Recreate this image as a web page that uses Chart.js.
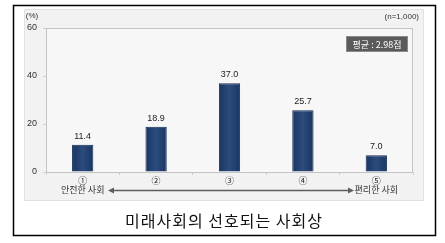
<!DOCTYPE html>
<html>
<head>
<meta charset="utf-8">
<script src="https://cdn.jsdelivr.net/npm/chart.js@4"></script>
<style>
  body { margin: 0; background: #fff; }
  #wrap { position: relative; width: 445px; height: 243px; }
</style>
</head>
<body>
<div id="wrap"><canvas id="chart"></canvas></div>
<script>
'use strict';

const categories = ['①', '②', '③', '④', '⑤'];
const subLabels = ['안전한 사회', '', '', '', '편리한 사회'];
const shares = [11.4, 18.9, 37.0, 25.7, 7.0];
const yTicks = [0, 20, 40, 60];
const unitLabel = '(%)';
const sampleLabel = '(n=1,000)';
const averageLabel = '평균 : 2.98점';
const titleText = '미래사회의 선호되는 사회상';

const FONT = "'Liberation Sans', 'Noto Sans CJK KR', sans-serif";
const KFONT = "'Noto Sans CJK KR', sans-serif";

let canvasElem = document.getElementById('chart');

// shade each bar darker at the edges, like the original
function barFill(context) {
  const chart = context.chart;
  const bar = chart.getDatasetMeta(0).data[context.dataIndex];
  if (!bar || !isFinite(bar.x) || !bar.width) return '#213f6e';
  const g = chart.ctx.createLinearGradient(bar.x - bar.width / 2, 0, bar.x + bar.width / 2, 0);
  g.addColorStop(0, '#1a3460');
  g.addColorStop(0.5, '#2b4c7e');
  g.addColorStop(1, '#1a3460');
  return g;
}

// frame, panel, plot box, labels and the arrow under the axis
const decor = {
  id: 'decor',
  beforeDraw(chart) {
    const ctx = chart.ctx;
    const a = chart.chartArea;
    ctx.save();
    ctx.fillStyle = '#ffffff';
    ctx.fillRect(0, 0, chart.width, chart.height);
    // outer panel
    ctx.fillStyle = '#f2f2f2';
    ctx.fillRect(24, 9, 400, 192);
    ctx.strokeStyle = '#e2e2e2';
    ctx.lineWidth = 1;
    ctx.strokeRect(24.5, 9.5, 399, 191);
    // plot area
    ctx.fillStyle = '#f7f7f7';
    ctx.fillRect(a.left, a.top, a.right - a.left, a.bottom - a.top);
    // black frame
    ctx.strokeStyle = '#000';
    ctx.lineWidth = 1.5;
    ctx.strokeRect(13.5, 5.5, 422, 230);
    ctx.restore();
  },
  beforeDatasetsDraw(chart) {
    const ctx = chart.ctx;
    const a = chart.chartArea;
    ctx.save();
    ctx.strokeStyle = '#c4c4c4';
    ctx.lineWidth = 1;
    ctx.strokeRect(a.left + 0.5, a.top + 0.5, a.right - a.left - 1, a.bottom - a.top);
    ctx.restore();
  },
  afterDatasetsDraw(chart) {
    const ctx = chart.ctx;
    const meta = chart.getDatasetMeta(0);
    ctx.save();
    ctx.fillStyle = '#222';
    ctx.font = '9px ' + FONT;
    ctx.textAlign = 'center';
    ctx.textBaseline = 'alphabetic';
    meta.data.forEach((bar, i) => {
      ctx.fillText(shares[i].toFixed(1), bar.x, bar.y - 6);
    });

    // unit and sample size
    ctx.fillStyle = '#333';
    ctx.font = '8px ' + FONT;
    ctx.textAlign = 'center';
    ctx.fillText(unitLabel, 32, 18);
    ctx.textAlign = 'right';
    ctx.fillText(sampleLabel, 419, 19);

    // average box
    ctx.fillStyle = '#5b5b5b';
    ctx.fillRect(346, 36, 62, 16);
    ctx.strokeStyle = '#8a8a8a';
    ctx.lineWidth = 1;
    ctx.strokeRect(346.5, 36.5, 61, 15);
    ctx.fillStyle = '#fff';
    ctx.font = '9px ' + KFONT;
    ctx.textAlign = 'center';
    ctx.textBaseline = 'middle';
    ctx.fillText(averageLabel, 377, 44.5);

    // sub labels and the double arrow between them
    const xs = chart.scales.x;
    ctx.fillStyle = '#333';
    ctx.font = '9px ' + KFONT;
    subLabels.forEach((s, i) => {
      if (s) ctx.fillText(s, xs.getPixelForValue(i), 190);
    });
    const y = 190.5;
    const x0 = 108, x1 = 354;
    ctx.strokeStyle = '#5e5e5e';
    ctx.fillStyle = '#5e5e5e';
    ctx.lineWidth = 1.5;
    ctx.beginPath();
    ctx.moveTo(x0 + 4, y);
    ctx.lineTo(x1 - 4, y);
    ctx.stroke();
    ctx.beginPath();
    ctx.moveTo(x0, y); ctx.lineTo(x0 + 6, y - 3); ctx.lineTo(x0 + 6, y + 3); ctx.closePath();
    ctx.fill();
    ctx.beginPath();
    ctx.moveTo(x1, y); ctx.lineTo(x1 - 6, y - 3); ctx.lineTo(x1 - 6, y + 3); ctx.closePath();
    ctx.fill();

    // caption
    ctx.fillStyle = '#111';
    ctx.font = '16px ' + KFONT;
    ctx.letterSpacing = '1px';
    ctx.textBaseline = 'middle';
    ctx.fillText(titleText, 224, 221);
    ctx.restore();
  }
};

function renderChart() {
  const chart = new Chart(canvasElem, {
    type: 'bar',
    data: {
      labels: categories,
      datasets: [
        {
          label: '선호',
          data: shares,
          backgroundColor: barFill,
          borderColor: '#142c54',
          borderWidth: 1,
          barPercentage: 0.29,
          categoryPercentage: 1,
        },
      ],
    },
    options: {
      responsive: true,
      maintainAspectRatio: false,
      animation: false,
      layout: { padding: { top: 28, right: 32, left: 0, bottom: 0 } },
      plugins: { legend: { display: false }, tooltip: { enabled: false } },
      scales: {
        y: {
          min: 0,
          max: 60,
          afterFit(scale) { scale.width = 46; },
          afterBuildTicks(scale) { scale.ticks = yTicks.map(v => ({ value: v })); },
          border: { display: false },
          grid: { drawOnChartArea: false, tickLength: 3, color: '#cfcfcf' },
          ticks: { color: '#333', font: { size: 9, family: FONT }, padding: 6 },
        },
        x: {
          afterFit(scale) { scale.height = 71; },
          border: { display: false },
          grid: { offset: true, drawOnChartArea: false, tickLength: 3, color: '#cfcfcf' },
          ticks: { color: '#222', font: { size: 9, family: FONT }, padding: 1, maxRotation: 0 },
        },
      },
    },
    plugins: [decor],
  });
  // second pass so the bar gradients see laid-out bars
  chart.update('none');
  return chart;
}

renderChart();
</script>
</body>
</html>
